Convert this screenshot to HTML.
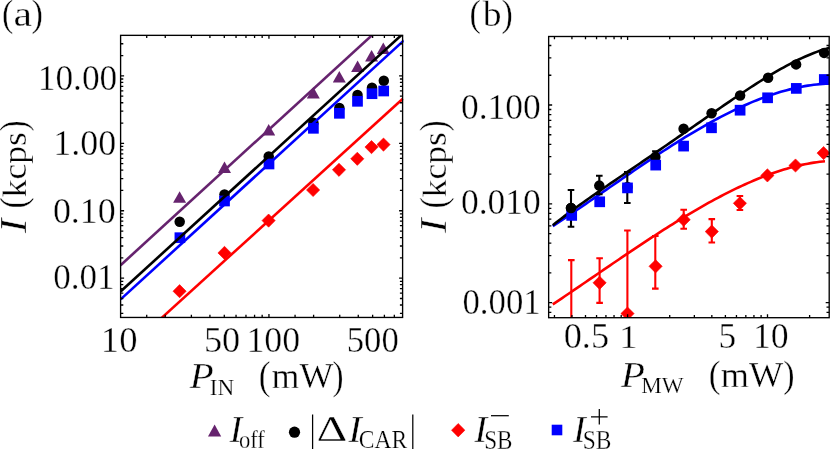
<!DOCTYPE html>
<html><head><meta charset="utf-8"><title>figure</title>
<style>html,body{margin:0;padding:0;background:#fff;}svg{display:block;}text{font-family:"Liberation Serif",serif;font-size:40px;fill:#000;stroke:#fff;stroke-width:0.4px;paint-order:fill stroke;}</style></head>
<body>
<svg width="830" height="449" viewBox="0 0 830 449">
<rect width="830" height="449" fill="#fff"/>
<clipPath id="ca"><rect x="120.6" y="35.35" width="283.20" height="282.10"/></clipPath>
<g clip-path="url(#ca)">
<path d="M179.60 191.30L186.10 202.80H173.10Z" fill="#66236E"/>
<path d="M224.50 161.40L231.00 172.90H218.00Z" fill="#66236E"/>
<path d="M268.70 124.10L275.20 135.60H262.20Z" fill="#66236E"/>
<path d="M313.30 87.10L319.80 98.60H306.80Z" fill="#66236E"/>
<path d="M339.30 70.90L345.80 82.40H332.80Z" fill="#66236E"/>
<path d="M357.60 60.50L364.10 72.00H351.10Z" fill="#66236E"/>
<path d="M371.60 49.90L378.10 61.40H365.10Z" fill="#66236E"/>
<path d="M383.30 42.40L389.80 53.90H376.80Z" fill="#66236E"/>
<circle cx="179.70" cy="221.70" r="5.25" fill="#000000"/>
<circle cx="224.50" cy="194.50" r="5.25" fill="#000000"/>
<circle cx="268.70" cy="156.50" r="5.25" fill="#000000"/>
<circle cx="313.40" cy="122.70" r="5.25" fill="#000000"/>
<circle cx="339.40" cy="108.00" r="5.25" fill="#000000"/>
<circle cx="357.50" cy="94.90" r="5.25" fill="#000000"/>
<circle cx="372.00" cy="87.70" r="5.25" fill="#000000"/>
<circle cx="383.80" cy="80.70" r="5.25" fill="#000000"/>
<path d="M179.60 284.60L186.20 291.20L179.60 297.80L173.00 291.20Z" fill="#FF0000" stroke="#FF0000" stroke-width="0.6" stroke-linejoin="round"/>
<path d="M224.50 246.30L231.10 252.90L224.50 259.50L217.90 252.90Z" fill="#FF0000" stroke="#FF0000" stroke-width="0.6" stroke-linejoin="round"/>
<path d="M268.60 214.00L275.20 220.60L268.60 227.20L262.00 220.60Z" fill="#FF0000" stroke="#FF0000" stroke-width="0.6" stroke-linejoin="round"/>
<path d="M313.10 183.40L319.70 190.00L313.10 196.60L306.50 190.00Z" fill="#FF0000" stroke="#FF0000" stroke-width="0.6" stroke-linejoin="round"/>
<path d="M339.00 163.20L345.60 169.80L339.00 176.40L332.40 169.80Z" fill="#FF0000" stroke="#FF0000" stroke-width="0.6" stroke-linejoin="round"/>
<path d="M357.30 152.20L363.90 158.80L357.30 165.40L350.70 158.80Z" fill="#FF0000" stroke="#FF0000" stroke-width="0.6" stroke-linejoin="round"/>
<path d="M371.50 140.50L378.10 147.10L371.50 153.70L364.90 147.10Z" fill="#FF0000" stroke="#FF0000" stroke-width="0.6" stroke-linejoin="round"/>
<path d="M383.50 138.00L390.10 144.60L383.50 151.20L376.90 144.60Z" fill="#FF0000" stroke="#FF0000" stroke-width="0.6" stroke-linejoin="round"/>
<rect x="174.55" y="232.35" width="10.7" height="10.7" fill="#0000FF"/>
<rect x="219.15" y="195.65" width="10.7" height="10.7" fill="#0000FF"/>
<rect x="263.65" y="158.65" width="10.7" height="10.7" fill="#0000FF"/>
<rect x="308.05" y="122.95" width="10.7" height="10.7" fill="#0000FF"/>
<rect x="334.05" y="107.95" width="10.7" height="10.7" fill="#0000FF"/>
<rect x="352.15" y="95.95" width="10.7" height="10.7" fill="#0000FF"/>
<rect x="366.65" y="88.35" width="10.7" height="10.7" fill="#0000FF"/>
<rect x="378.35" y="85.65" width="10.7" height="10.7" fill="#0000FF"/>
<path d="M120.60 265.20L373.80 33.57" stroke="#66236E" stroke-width="2.6" fill="none"/>
<path d="M120.60 291.50L403.10 33.57" stroke="#000000" stroke-width="2.6" fill="none"/>
<path d="M120.60 299.40L403.90 40.40" stroke="#0000FF" stroke-width="2.6" fill="none"/>
<path d="M161.10 318.36L402.80 98.80" stroke="#FF0000" stroke-width="2.6" fill="none"/>
</g>
<path d="M146.72 317.45v-2.7M146.72 35.35v2.7M165.26 317.45v-2.7M165.26 35.35v2.7M191.38 317.45v-2.7M191.38 35.35v2.7M209.92 317.45v-2.7M209.92 35.35v2.7M224.29 317.45v-2.7M224.29 35.35v2.7M236.04 317.45v-2.7M236.04 35.35v2.7M245.97 317.45v-2.7M245.97 35.35v2.7M254.57 317.45v-2.7M254.57 35.35v2.7M262.16 317.45v-2.7M262.16 35.35v2.7M268.95 317.45v-3.5M268.95 35.35v3.5M295.07 317.45v-2.7M295.07 35.35v2.7M313.61 317.45v-2.7M313.61 35.35v2.7M339.73 317.45v-2.7M339.73 35.35v2.7M358.27 317.45v-2.7M358.27 35.35v2.7M372.64 317.45v-2.7M372.64 35.35v2.7M384.39 317.45v-2.7M384.39 35.35v2.7M394.32 317.45v-2.7M394.32 35.35v2.7M120.60 313.45h2.7M402.60 313.45h-2.7M120.60 305.02h2.7M402.60 305.02h-2.7M120.60 298.49h2.7M402.60 298.49h-2.7M120.60 293.15h2.7M402.60 293.15h-2.7M120.60 288.64h2.7M402.60 288.64h-2.7M120.60 284.72h2.7M402.60 284.72h-2.7M120.60 281.28h2.7M402.60 281.28h-2.7M120.60 278.19h3.5M402.60 278.19h-3.5M120.60 257.89h2.7M402.60 257.89h-2.7M120.60 246.02h2.7M402.60 246.02h-2.7M120.60 237.59h2.7M402.60 237.59h-2.7M120.60 231.06h2.7M402.60 231.06h-2.7M120.60 225.72h2.7M402.60 225.72h-2.7M120.60 221.21h2.7M402.60 221.21h-2.7M120.60 217.29h2.7M402.60 217.29h-2.7M120.60 213.85h2.7M402.60 213.85h-2.7M120.60 210.76h3.5M402.60 210.76h-3.5M120.60 190.46h2.7M402.60 190.46h-2.7M120.60 178.59h2.7M402.60 178.59h-2.7M120.60 170.16h2.7M402.60 170.16h-2.7M120.60 163.63h2.7M402.60 163.63h-2.7M120.60 158.29h2.7M402.60 158.29h-2.7M120.60 153.78h2.7M402.60 153.78h-2.7M120.60 149.86h2.7M402.60 149.86h-2.7M120.60 146.42h2.7M402.60 146.42h-2.7M120.60 143.33h3.5M402.60 143.33h-3.5M120.60 123.03h2.7M402.60 123.03h-2.7M120.60 111.16h2.7M402.60 111.16h-2.7M120.60 102.73h2.7M402.60 102.73h-2.7M120.60 96.20h2.7M402.60 96.20h-2.7M120.60 90.86h2.7M402.60 90.86h-2.7M120.60 86.35h2.7M402.60 86.35h-2.7M120.60 82.43h2.7M402.60 82.43h-2.7M120.60 78.99h2.7M402.60 78.99h-2.7M120.60 75.90h3.5M402.60 75.90h-3.5M120.60 55.60h2.7M402.60 55.60h-2.7M120.60 43.73h2.7M402.60 43.73h-2.7" stroke="#000" stroke-width="1.3" fill="none"/>
<rect x="120.60" y="35.35" width="282.00" height="282.10" fill="none" stroke="#000" stroke-width="1.35"/>
<clipPath id="cb"><rect x="548.65" y="36.5" width="281.15" height="281.20"/></clipPath>
<g clip-path="url(#cb)">
<path d="M552.80 304.41L555.80 302.39L558.80 300.36L561.80 298.33L564.80 296.29L567.80 294.26L570.80 292.21L573.80 290.17L576.80 288.12L579.80 286.07L582.80 284.02L585.80 281.97L588.80 279.92L591.80 277.86L594.80 275.81L597.80 273.76L600.80 271.71L603.80 269.66L606.80 267.61L609.80 265.57L612.80 263.53L615.80 261.49L618.80 259.45L621.80 257.42L624.80 255.40L627.80 253.38L630.80 251.36L633.80 249.35L636.80 247.35L639.80 245.35L642.80 243.37L645.80 241.39L648.80 239.42L651.80 237.46L654.80 235.51L657.80 233.56L660.80 231.63L663.80 229.72L666.80 227.81L669.80 225.92L672.80 224.04L675.80 222.17L678.80 220.32L681.80 218.48L684.80 216.66L687.80 214.85L690.80 213.06L693.80 211.29L696.80 209.54L699.80 207.80L702.80 206.09L705.80 204.39L708.80 202.72L711.80 201.06L714.80 199.43L717.80 197.82L720.80 196.24L723.80 194.68L726.80 193.14L729.80 191.63L732.80 190.14L735.80 188.68L738.80 187.25L741.80 185.85L744.80 184.48L747.80 183.13L750.80 181.82L753.80 180.54L756.80 179.28L759.80 178.07L762.80 176.88L765.80 175.73L768.80 174.62L771.80 173.54L774.80 172.49L777.80 171.49L780.80 170.52L783.80 169.59L786.80 168.70L789.80 167.85L792.80 167.04L795.80 166.28L798.80 165.56L801.80 164.88L804.80 164.25L807.80 163.66L810.80 163.12L813.80 162.62L816.80 162.18L819.80 161.78L822.80 161.43L825.00 161.21" stroke="#FF0000" stroke-width="2.6" fill="none" stroke-linejoin="round"/>
<path d="M552.80 226.18L555.80 224.19L558.80 222.20L561.80 220.19L564.80 218.17L567.80 216.15L570.80 214.12L573.80 212.08L576.80 210.03L579.80 207.98L582.80 205.93L585.80 203.86L588.80 201.80L591.80 199.73L594.80 197.66L597.80 195.58L600.80 193.51L603.80 191.43L606.80 189.35L609.80 187.28L612.80 185.20L615.80 183.13L618.80 181.06L621.80 178.99L624.80 176.92L627.80 174.86L630.80 172.81L633.80 170.76L636.80 168.72L639.80 166.68L642.80 164.65L645.80 162.63L648.80 160.62L651.80 158.62L654.80 156.63L657.80 154.65L660.80 152.69L663.80 150.73L666.80 148.79L669.80 146.86L672.80 144.95L675.80 143.05L678.80 141.17L681.80 139.31L684.80 137.46L687.80 135.63L690.80 133.82L693.80 132.03L696.80 130.26L699.80 128.51L702.80 126.78L705.80 125.08L708.80 123.39L711.80 121.74L714.80 120.10L717.80 118.49L720.80 116.91L723.80 115.35L726.80 113.82L729.80 112.32L732.80 110.85L735.80 109.41L738.80 108.00L741.80 106.62L744.80 105.27L747.80 103.95L750.80 102.67L753.80 101.42L756.80 100.21L759.80 99.03L762.80 97.89L765.80 96.79L768.80 95.72L771.80 94.69L774.80 93.70L777.80 92.75L780.80 91.85L783.80 90.98L786.80 90.16L789.80 89.38L792.80 88.64L795.80 87.95L798.80 87.30L801.80 86.70L804.80 86.15L807.80 85.64L810.80 85.19L813.80 84.78L816.80 84.42L819.80 84.12L822.80 83.86L825.80 83.66L828.80 83.52L829.50 83.49" stroke="#0000FF" stroke-width="2.6" fill="none" stroke-linejoin="round"/>
<path d="M552.80 225.15L555.80 222.80L558.80 220.47L561.80 218.18L564.80 215.91L567.80 213.66L570.80 211.44L573.80 209.23L576.80 207.05L579.80 204.88L582.80 202.74L585.80 200.60L588.80 198.48L591.80 196.37L594.80 194.28L597.80 192.19L600.80 190.11L603.80 188.04L606.80 185.98L609.80 183.92L612.80 181.87L615.80 179.82L618.80 177.77L621.80 175.73L624.80 173.69L627.80 171.65L630.80 169.61L633.80 167.57L636.80 165.53L639.80 163.48L642.80 161.44L645.80 159.39L648.80 157.34L651.80 155.29L654.80 153.24L657.80 151.18L660.80 149.12L663.80 147.05L666.80 144.98L669.80 142.91L672.80 140.84L675.80 138.76L678.80 136.68L681.80 134.60L684.80 132.51L687.80 130.43L690.80 128.34L693.80 126.25L696.80 124.16L699.80 122.07L702.80 119.98L705.80 117.89L708.80 115.80L711.80 113.71L714.80 111.63L717.80 109.56L720.80 107.48L723.80 105.42L726.80 103.36L729.80 101.31L732.80 99.26L735.80 97.23L738.80 95.21L741.80 93.21L744.80 91.21L747.80 89.23L750.80 87.27L753.80 85.33L756.80 83.41L759.80 81.51L762.80 79.63L765.80 77.78L768.80 75.95L771.80 74.15L774.80 72.38L777.80 70.64L780.80 68.94L783.80 67.27L786.80 65.64L789.80 64.05L792.80 62.50L795.80 61.00L798.80 59.54L801.80 58.13L804.80 56.78L807.80 55.47L810.80 54.22L813.80 53.03L816.80 51.90L819.80 50.84L822.80 49.84L825.80 48.91L828.80 48.05L829.50 47.86" stroke="#000000" stroke-width="2.6" fill="none" stroke-linejoin="round"/>
<path d="M571.00 190.00V226.70M567.70 190.00h6.6M567.70 226.70h6.6" stroke="#000000" stroke-width="2.1" fill="none"/>
<path d="M599.30 175.70V194.30M596.00 175.70h6.6M596.00 194.30h6.6" stroke="#000000" stroke-width="2.1" fill="none"/>
<path d="M627.30 172.00V203.00M624.00 172.00h6.6M624.00 203.00h6.6" stroke="#000000" stroke-width="2.1" fill="none"/>
<path d="M655.40 151.40V161.50M652.10 151.40h6.6M652.10 161.50h6.6" stroke="#000000" stroke-width="2.1" fill="none"/>
<circle cx="571.00" cy="208.00" r="5.25" fill="#000000"/>
<circle cx="599.30" cy="185.60" r="5.25" fill="#000000"/>
<circle cx="627.40" cy="187.00" r="5.25" fill="#000000"/>
<circle cx="655.40" cy="157.10" r="5.25" fill="#000000"/>
<circle cx="683.60" cy="128.70" r="5.25" fill="#000000"/>
<circle cx="711.60" cy="113.20" r="5.25" fill="#000000"/>
<circle cx="740.10" cy="95.50" r="5.25" fill="#000000"/>
<circle cx="768.10" cy="77.80" r="5.25" fill="#000000"/>
<circle cx="796.10" cy="64.40" r="5.25" fill="#000000"/>
<circle cx="824.10" cy="52.90" r="5.25" fill="#000000"/>
<path d="M571.30 260.10V330.00M568.00 260.10h6.6" stroke="#FF0000" stroke-width="2.1" fill="none"/>
<path d="M599.60 258.30V302.90M596.30 258.30h6.6M596.30 302.90h6.6" stroke="#FF0000" stroke-width="2.1" fill="none"/>
<path d="M627.40 230.50V330.00M624.10 230.50h6.6" stroke="#FF0000" stroke-width="2.1" fill="none"/>
<path d="M655.30 236.00V288.60M652.00 236.00h6.6M652.00 288.60h6.6" stroke="#FF0000" stroke-width="2.1" fill="none"/>
<path d="M683.70 209.80V228.80M680.40 209.80h6.6M680.40 228.80h6.6" stroke="#FF0000" stroke-width="2.1" fill="none"/>
<path d="M711.80 219.10V242.50M708.50 219.10h6.6M708.50 242.50h6.6" stroke="#FF0000" stroke-width="2.1" fill="none"/>
<path d="M739.90 196.00V210.00M736.60 196.00h6.6M736.60 210.00h6.6" stroke="#FF0000" stroke-width="2.1" fill="none"/>
<path d="M599.60 276.20L606.20 282.80L599.60 289.40L593.00 282.80Z" fill="#FF0000" stroke="#FF0000" stroke-width="0.6" stroke-linejoin="round"/>
<path d="M627.50 307.00L634.10 313.60L627.50 320.20L620.90 313.60Z" fill="#FF0000" stroke="#FF0000" stroke-width="0.6" stroke-linejoin="round"/>
<path d="M655.60 259.70L662.20 266.30L655.60 272.90L649.00 266.30Z" fill="#FF0000" stroke="#FF0000" stroke-width="0.6" stroke-linejoin="round"/>
<path d="M683.70 213.10L690.30 219.70L683.70 226.30L677.10 219.70Z" fill="#FF0000" stroke="#FF0000" stroke-width="0.6" stroke-linejoin="round"/>
<path d="M711.80 225.00L718.40 231.60L711.80 238.20L705.20 231.60Z" fill="#FF0000" stroke="#FF0000" stroke-width="0.6" stroke-linejoin="round"/>
<path d="M739.90 196.70L746.50 203.30L739.90 209.90L733.30 203.30Z" fill="#FF0000" stroke="#FF0000" stroke-width="0.6" stroke-linejoin="round"/>
<path d="M767.40 168.80L774.00 175.40L767.40 182.00L760.80 175.40Z" fill="#FF0000" stroke="#FF0000" stroke-width="0.6" stroke-linejoin="round"/>
<path d="M795.50 158.90L802.10 165.50L795.50 172.10L788.90 165.50Z" fill="#FF0000" stroke="#FF0000" stroke-width="0.6" stroke-linejoin="round"/>
<path d="M823.60 146.50L830.20 153.10L823.60 159.70L817.00 153.10Z" fill="#FF0000" stroke="#FF0000" stroke-width="0.6" stroke-linejoin="round"/>
<rect x="566.35" y="210.05" width="10.7" height="10.7" fill="#0000FF"/>
<rect x="594.35" y="196.45" width="10.7" height="10.7" fill="#0000FF"/>
<rect x="622.15" y="182.55" width="10.7" height="10.7" fill="#0000FF"/>
<rect x="650.35" y="159.75" width="10.7" height="10.7" fill="#0000FF"/>
<rect x="678.25" y="140.75" width="10.7" height="10.7" fill="#0000FF"/>
<rect x="706.15" y="122.45" width="10.7" height="10.7" fill="#0000FF"/>
<rect x="734.75" y="104.85" width="10.7" height="10.7" fill="#0000FF"/>
<rect x="762.25" y="92.45" width="10.7" height="10.7" fill="#0000FF"/>
<rect x="790.95" y="83.05" width="10.7" height="10.7" fill="#0000FF"/>
<rect x="818.95" y="74.15" width="10.7" height="10.7" fill="#0000FF"/>
<circle cx="571.00" cy="208.00" r="5.25" fill="#000000"/>
</g>
<path d="M554.45 317.70v-2.7M554.45 36.50v2.7M571.93 317.70v-2.7M571.93 36.50v2.7M585.49 317.70v-2.7M585.49 36.50v2.7M596.56 317.70v-2.7M596.56 36.50v2.7M605.93 317.70v-2.7M605.93 36.50v2.7M614.04 317.70v-2.7M614.04 36.50v2.7M621.20 317.70v-2.7M621.20 36.50v2.7M627.60 317.70v-3.5M627.60 36.50v3.5M669.71 317.70v-2.7M669.71 36.50v2.7M694.35 317.70v-2.7M694.35 36.50v2.7M711.83 317.70v-2.7M711.83 36.50v2.7M725.39 317.70v-2.7M725.39 36.50v2.7M736.46 317.70v-2.7M736.46 36.50v2.7M745.83 317.70v-2.7M745.83 36.50v2.7M753.94 317.70v-2.7M753.94 36.50v2.7M761.10 317.70v-2.7M761.10 36.50v2.7M767.50 317.70v-3.5M767.50 36.50v3.5M809.61 317.70v-2.7M809.61 36.50v2.7M548.65 312.28h2.7M829.20 312.28h-2.7M548.65 307.22h2.7M829.20 307.22h-2.7M548.65 302.70h3.5M829.20 302.70h-3.5M548.65 272.94h2.7M829.20 272.94h-2.7M548.65 255.54h2.7M829.20 255.54h-2.7M548.65 243.19h2.7M829.20 243.19h-2.7M548.65 233.61h2.7M829.20 233.61h-2.7M548.65 225.78h2.7M829.20 225.78h-2.7M548.65 219.16h2.7M829.20 219.16h-2.7M548.65 213.43h2.7M829.20 213.43h-2.7M548.65 208.37h2.7M829.20 208.37h-2.7M548.65 203.85h3.5M829.20 203.85h-3.5M548.65 174.09h2.7M829.20 174.09h-2.7M548.65 156.69h2.7M829.20 156.69h-2.7M548.65 144.34h2.7M829.20 144.34h-2.7M548.65 134.76h2.7M829.20 134.76h-2.7M548.65 126.93h2.7M829.20 126.93h-2.7M548.65 120.31h2.7M829.20 120.31h-2.7M548.65 114.58h2.7M829.20 114.58h-2.7M548.65 109.52h2.7M829.20 109.52h-2.7M548.65 105.00h3.5M829.20 105.00h-3.5M548.65 75.24h2.7M829.20 75.24h-2.7M548.65 57.84h2.7M829.20 57.84h-2.7M548.65 45.49h2.7M829.20 45.49h-2.7" stroke="#000" stroke-width="1.3" fill="none"/>
<rect x="548.65" y="36.50" width="280.55" height="281.20" fill="none" stroke="#000" stroke-width="1.35"/>
<path d="M214.60 424.40L221.20 436.60H208.00Z" fill="#66236E"/>
<circle cx="294.50" cy="432.20" r="5.6" fill="#000000"/>
<path d="M312.6 414.6V449M412.8 414.6V449" stroke="#000" stroke-width="1.25"/>
<path d="M458.20 423.50L464.90 430.20L458.20 436.90L451.50 430.20Z" fill="#FF0000" stroke="#FF0000" stroke-width="0.6" stroke-linejoin="round"/>
<path d="M491 415.7H508.8" stroke="#000" stroke-width="1.25"/>
<rect x="551.70" y="424.70" width="10.6" height="10.6" fill="#0000FF"/>
<path d="M591 416.8H607.6M599.3 409.1V424.5" stroke="#000" stroke-width="1.25"/>
<filter id="gs" x="-5%" y="-5%" width="110%" height="110%" color-interpolation-filters="sRGB"><feColorMatrix type="saturate" values="0"/></filter>
<g filter="url(#gs)">
<text transform="matrix(0.8506 0 0 0.9746 1.90 26.08)">(</text>
<text transform="matrix(1.0472 0 0 0.8913 13.40 25.79)">a</text>
<text transform="matrix(0.8608 0 0 0.9746 31.61 26.08)">)</text>
<text transform="matrix(0.8608 0 0 0.9746 469.58 26.08)">(</text>
<text transform="matrix(0.9389 0 0 0.8796 482.67 25.79)">b</text>
<text transform="matrix(0.8506 0 0 0.9746 501.52 26.08)">)</text>
<text transform="matrix(0.8852 0 0 0.8897 37.68 89.87)">10.00</text>
<text transform="matrix(0.8992 0 0 0.8897 53.33 154.87)">1.00</text>
<text transform="matrix(0.8977 0 0 0.8822 52.93 223.47)">0.10</text>
<text transform="matrix(0.8762 0 0 0.8822 53.17 288.97)">0.01</text>
<text transform="matrix(0.9159 0 0 0.9094 100.87 351.79)">10</text>
<text transform="matrix(0.9063 0 0 0.9094 203.93 351.79)">50</text>
<text transform="matrix(0.8954 0 0 0.8943 246.44 351.59)">100</text>
<text transform="matrix(0.8664 0 0 0.9094 346.73 351.79)">500</text>
<text transform="matrix(0.8879 0 0 0.9009 460.95 118.96)">0.100</text>
<text transform="matrix(0.8879 0 0 0.9009 460.95 214.36)">0.010</text>
<text transform="matrix(0.8689 0 0 0.8935 462.48 314.26)">0.001</text>
<text transform="matrix(0.9075 0 0 0.8710 563.71 348.27)">0.5</text>
<text transform="matrix(0.9174 0 0 0.8538 619.26 348.41)">1</text>
<text transform="matrix(0.8825 0 0 0.8919 718.39 348.49)">5</text>
<text transform="matrix(0.8928 0 0 0.8792 752.95 348.49)">10</text>
<text transform="matrix(0.9806 0 0 0.8971 189.80 388.12)" font-style="italic">P</text>
<text transform="matrix(0.5811 0 0 0.5905 209.83 394.90)" stroke="#fff" stroke-width="0">IN</text>
<text transform="matrix(0.8810 0 0 0.9775 258.84 388.86)">(</text>
<text transform="matrix(0.8991 0 0 0.9062 271.60 387.86)">mW</text>
<text transform="matrix(0.8304 0 0 0.9775 332.45 388.86)">)</text>
<text transform="matrix(0.9806 0 0 0.9010 620.90 386.53)" font-style="italic">P</text>
<text transform="matrix(0.5782 0 0 0.5842 641.25 393.23)" stroke="#fff" stroke-width="0">MW</text>
<text transform="matrix(0.8810 0 0 0.9634 708.74 386.97)">(</text>
<text transform="matrix(0.9065 0 0 0.9175 720.79 386.66)">mW</text>
<text transform="matrix(0.8506 0 0 0.9634 783.32 386.97)">)</text>
<text transform="matrix(0.9655 0 0 0.9282 229.58 442.13)" font-style="italic">I</text>
<text transform="matrix(0.5656 0 0 0.6386 238.95 448.46)" stroke="#fff" stroke-width="0">off</text>
<text transform="matrix(1.2000 0 0 0.9192 316.40 441.33)">Δ</text>
<text transform="matrix(1.0069 0 0 0.9282 348.27 442.13)" font-style="italic">I</text>
<text transform="matrix(0.5891 0 0 0.6065 358.84 448.37)" stroke="#fff" stroke-width="0">CAR</text>
<text transform="matrix(0.9724 0 0 0.9282 474.18 441.93)" font-style="italic">I</text>
<text transform="matrix(0.5792 0 0 0.6623 484.18 448.65)" stroke="#fff" stroke-width="0">SB</text>
<text transform="matrix(0.9517 0 0 0.9282 573.08 441.93)" font-style="italic">I</text>
<text transform="matrix(0.5859 0 0 0.6623 582.76 448.65)" stroke="#fff" stroke-width="0">SB</text>
</g>
<g filter="url(#gs)"><g transform="rotate(-90)">
<text transform="matrix(1.0828 0 0 0.9359 -232.94 26.33)" font-style="italic">I</text>
<text transform="matrix(0.8506 0 0 0.9296 -208.50 25.85)">(</text>
<text transform="matrix(0.8864 0 0 0.8615 -197.29 25.69)">kcps</text>
<text transform="matrix(0.8101 0 0 0.9296 -131.22 25.85)">)</text>
<text transform="matrix(1.0828 0 0 0.9359 -232.94 446.33)" font-style="italic">I</text>
<text transform="matrix(0.8506 0 0 0.9296 -208.50 445.85)">(</text>
<text transform="matrix(0.8864 0 0 0.8615 -197.29 445.69)">kcps</text>
<text transform="matrix(0.8101 0 0 0.9296 -131.22 445.85)">)</text>
</g></g>
</svg></body></html>
